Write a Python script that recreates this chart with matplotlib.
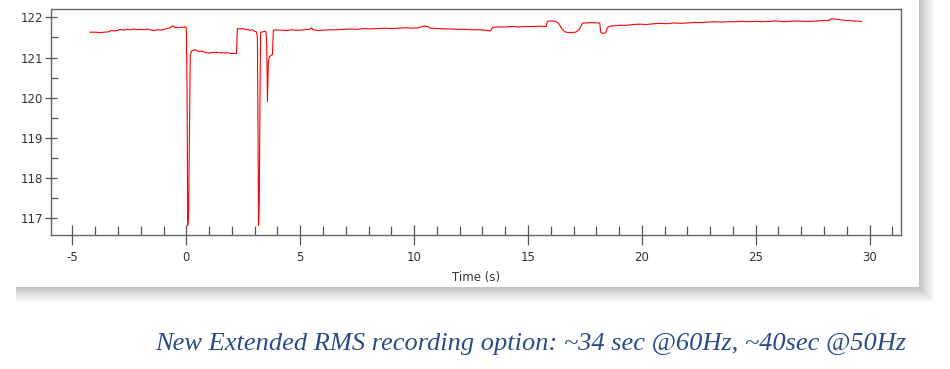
import matplotlib
matplotlib.use('Agg')
import matplotlib.pyplot as plt
from matplotlib.patches import Rectangle
from matplotlib.ticker import MultipleLocator

plt.rcParams['axes.unicode_minus'] = False

# RMS voltage recording
time_s = [-4.24, -4.0, -3.8, -3.6, -3.4, -3.3, -3.15, -3.0, -2.9, -2.75, -2.6, -2.45, -2.3, -2.15, -2.0,
          -1.85, -1.7, -1.55, -1.4, -1.25, -1.1, -0.95, -0.85, -0.75, -0.65, -0.58, -0.5, -0.4, -0.3,
          -0.2, -0.1, -0.04, 0.0, 0.03, 0.06, 0.1, 0.13, 0.17, 0.22, 0.3, 0.4, 0.5, 0.6, 0.7, 0.8, 0.9,
          1.0, 1.1, 1.2, 1.3, 1.4, 1.5, 1.6, 1.7, 1.8, 1.95, 2.1, 2.2, 2.24, 2.35, 2.5, 2.6, 2.7, 2.8,
          2.9, 3.0, 3.08, 3.12, 3.15, 3.17, 3.2, 3.23, 3.26, 3.35, 3.45, 3.5, 3.53, 3.56, 3.6, 3.65,
          3.72, 3.78, 3.82, 3.9, 4.0, 4.2, 4.4, 4.6, 4.8, 5.0, 5.2, 5.4, 5.5, 5.55, 5.8, 6.0, 6.3, 6.6,
          6.9, 7.2, 7.5, 7.8, 8.1, 8.4, 8.7, 9.0, 9.3, 9.6, 9.9, 10.2, 10.4, 10.6, 10.7, 11.0, 11.3,
          11.6, 11.9, 12.2, 12.5, 12.8, 13.1, 13.35, 13.45, 13.7, 14.0, 14.3, 14.6, 14.9, 15.2, 15.5,
          15.8, 15.85, 16.0, 16.2, 16.35, 16.5, 16.65, 16.9, 17.1, 17.25, 17.4, 17.6, 17.8, 18.0,
          18.15, 18.2, 18.3, 18.4, 18.5, 18.6, 18.8, 19.0, 19.3, 19.6, 19.9, 20.2, 20.5, 20.8, 21.1,
          21.4, 21.7, 22.0, 22.3, 22.6, 22.9, 23.2, 23.5, 23.8, 24.1, 24.4, 24.7, 25.0, 25.3, 25.6,
          25.9, 26.2, 26.5, 26.8, 27.1, 27.4, 27.7, 28.0, 28.2, 28.3, 28.6, 28.8, 29.0, 29.3, 29.64]
rms_v = [121.63, 121.63, 121.62, 121.63, 121.64, 121.67, 121.66, 121.68, 121.70, 121.68, 121.70,
         121.69, 121.71, 121.69, 121.70, 121.69, 121.71, 121.68, 121.67, 121.69, 121.68, 121.70,
         121.72, 121.73, 121.77, 121.79, 121.74, 121.75, 121.74, 121.76, 121.75, 121.77, 121.72,
         120.20, 116.82, 117.20, 118.80, 121.05, 121.16, 121.18, 121.19, 121.16, 121.15, 121.16,
         121.13, 121.12, 121.11, 121.12, 121.13, 121.12, 121.13, 121.11, 121.12, 121.11, 121.12,
         121.10, 121.10, 121.10, 121.72, 121.71, 121.72, 121.69, 121.70, 121.68, 121.69, 121.65,
         121.64, 121.50, 118.50, 116.82, 117.40, 119.80, 121.62, 121.64, 121.65, 121.64, 121.30,
         119.90, 120.90, 121.02, 121.05, 121.07, 121.68, 121.69, 121.68, 121.68, 121.67, 121.69,
         121.68, 121.68, 121.69, 121.70, 121.74, 121.69, 121.67, 121.68, 121.69, 121.69, 121.70,
         121.71, 121.70, 121.72, 121.71, 121.72, 121.73, 121.72, 121.73, 121.74, 121.73, 121.74,
         121.78, 121.77, 121.73, 121.72, 121.71, 121.71, 121.70, 121.70, 121.69, 121.69, 121.68,
         121.66, 121.75, 121.76, 121.76, 121.77, 121.76, 121.77, 121.77, 121.78, 121.77, 121.90,
         121.91, 121.90, 121.85, 121.70, 121.63, 121.62, 121.63, 121.70, 121.86, 121.86, 121.87,
         121.86, 121.86, 121.62, 121.60, 121.61, 121.75, 121.78, 121.79, 121.80, 121.80, 121.82,
         121.83, 121.82, 121.84, 121.85, 121.84, 121.86, 121.85, 121.86, 121.87, 121.87, 121.88,
         121.89, 121.88, 121.89, 121.89, 121.90, 121.89, 121.90, 121.89, 121.90, 121.91, 121.89,
         121.90, 121.91, 121.90, 121.90, 121.91, 121.92, 121.92, 121.96, 121.95, 121.93, 121.92,
         121.91, 121.90]

x_label = 'Time (s)'
caption = 'New Extended RMS recording option: ~34 sec @60Hz, ~40sec @50Hz'

W, H = 950, 369
fig = plt.figure(figsize=(W / 100, H / 100), dpi=100)
fig.patch.set_facecolor('white')

# card with a soft drop shadow (pixel coords -> figure fraction)
def px_rect(x0, y0, x1, y1, **kw):
    return Rectangle((x0 / W, 1 - y1 / H), (x1 - x0) / W, (y1 - y0) / H,
                     transform=fig.transFigure, **kw)

for d in range(1, 16):
    fig.patches.append(px_rect(14 + 2, -10, 919 + d, 287 + d, facecolor='black',
                               edgecolor='none', alpha=0.016, zorder=-3))
fig.patches.append(px_rect(14, -10, 919, 287, facecolor='white', edgecolor='none', zorder=-2))

ax = fig.add_axes([51 / W, 1 - 235.3 / H, (901 - 51) / W, (235.3 - 8.7) / H])
ax.plot(time_s, rms_v, color='#ff0000', lw=0.8)

ax.set_xlim(-5.944, 31.38)
ax.set_ylim(116.577, 122.214)
ax.xaxis.set_major_locator(MultipleLocator(5))
ax.xaxis.set_minor_locator(MultipleLocator(1))
ax.yaxis.set_major_locator(MultipleLocator(1))
ax.yaxis.set_minor_locator(MultipleLocator(0.5))

for s in ax.spines.values():
    s.set_color('#666666')
    s.set_linewidth(1.0)

ax.tick_params(axis='x', which='major', direction='inout', length=14, width=0.9,
               color='#555555', labelsize=8.5, labelcolor='#333333', pad=4)
ax.tick_params(axis='x', which='minor', direction='in', length=6.2, width=0.9, color='#555555')
ax.tick_params(axis='y', which='major', direction='inout', length=8, width=0.9,
               color='#555555', labelsize=8.5, labelcolor='#333333', pad=1.5)
ax.tick_params(axis='y', which='minor', direction='in', length=4.8, width=0.9, color='#555555')

ax.set_xlabel(x_label, fontsize=8.5, color='#333333', labelpad=5)

fig.text(531 / W, 1 - 344 / H, caption, ha='center', va='center', fontsize=19,
         family='Liberation Serif', style='italic', color='#2a4b88')

fig.savefig('out.png', dpi=100)
